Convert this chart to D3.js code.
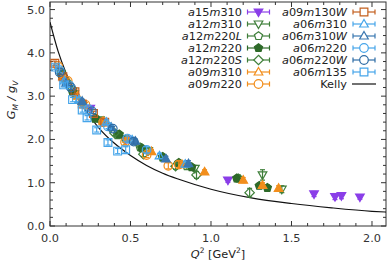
<!DOCTYPE html>
<html>
<head>
<meta charset="utf-8">
<script src="https://cdn.jsdelivr.net/npm/d3@7"></script>
<style>
  body { margin: 0; background: #fff; }
  svg { display: block; font-family: "DejaVu Sans", sans-serif; }
  .axis text { fill: #333; }
</style>
</head>
<body>
<svg id="chart" width="390" height="264"></svg>
<script>
// [Q², G_M/g_V, error]
const a15m310 = [[0.25, 2.72, 0.06], [0.47, 2.0, 0.05], [1.105, 1.06, 0.05], [1.64, 0.74, 0.06], [1.77, 0.68, 0.07], [1.81, 0.70, 0.07], [1.925, 0.67, 0.05]];
const a12m310 = [[0.15, 3.05, 0.05], [0.31, 2.45, 0.05], [0.46, 2.02, 0.05], [0.61, 1.74, 0.06], [0.9, 1.33, 0.07], [1.32, 1.18, 0.12], [1.44, 0.85, 0.08]];
const a12m220L = [[0.07, 3.55, 0.05], [0.14, 3.15, 0.05], [0.28, 2.5, 0.05], [0.42, 2.1, 0.05], [0.56, 1.82, 0.05], [0.7, 1.58, 0.06], [0.85, 1.38, 0.07], [1.17, 1.1, 0.08]];
const a12m220 = [[0.07, 3.5, 0.04], [0.14, 3.1, 0.04], [0.28, 2.48, 0.04], [0.43, 2.12, 0.04], [0.57, 1.8, 0.05], [0.7, 1.6, 0.05], [0.8, 1.46, 0.05], [0.88, 1.36, 0.05], [1.16, 1.1, 0.06], [1.3, 0.93, 0.06], [1.35, 0.88, 0.07]];
const a12m220S = [[0.1, 3.35, 0.06], [0.2, 2.85, 0.06], [0.4, 2.15, 0.06], [0.58, 1.66, 0.06], [0.78, 1.38, 0.07], [0.91, 1.18, 0.08], [1.24, 0.77, 0.1]];
const a09m310 = [[0.08, 3.45, 0.04], [0.17, 3.0, 0.04], [0.33, 2.42, 0.04], [0.48, 2.0, 0.04], [0.63, 1.72, 0.05], [0.82, 1.42, 0.05], [0.96, 1.25, 0.05], [1.2, 1.06, 0.06], [1.32, 0.94, 0.06], [1.42, 0.87, 0.06]];
const a09m220 = [[0.05, 3.7, 0.05], [0.11, 3.35, 0.05], [0.22, 2.8, 0.05], [0.33, 2.4, 0.05], [0.466, 1.94, 0.06], [0.6, 1.64, 0.06], [0.735, 1.39, 0.07], [0.8, 1.42, 0.08]];
const a09m130W = [[0.03, 3.76, 0.05], [0.08, 3.45, 0.05], [0.155, 3.1, 0.05], [0.2, 2.82, 0.05], [0.27, 2.6, 0.05], [0.34, 2.4, 0.06]];
const a06m310 = [[0.09, 3.35, 0.05], [0.18, 2.92, 0.05], [0.35, 2.4, 0.05], [0.51, 1.99, 0.05], [0.68, 1.62, 0.06], [0.84, 1.43, 0.07]];
const a06m310W = [[0.1, 3.3, 0.05], [0.2, 2.88, 0.05], [0.38, 2.28, 0.05], [0.53, 1.96, 0.05], [0.72, 1.55, 0.06], [0.86, 1.44, 0.07]];
const a06m220 = [[0.06, 3.6, 0.05], [0.12, 3.25, 0.05], [0.24, 2.7, 0.05], [0.36, 2.3, 0.05], [0.48, 2.02, 0.06], [0.6, 1.76, 0.07]];
const a06m220W = [[0.06, 3.55, 0.05], [0.13, 3.2, 0.05], [0.26, 2.65, 0.05], [0.39, 2.25, 0.05], [0.52, 1.95, 0.06]];
const a06m135 = [[0.035, 3.67, 0.05], [0.085, 3.26, 0.05], [0.14, 2.92, 0.05], [0.2, 2.68, 0.05], [0.23, 2.5, 0.05], [0.29, 2.22, 0.05], [0.36, 1.93, 0.06], [0.42, 1.73, 0.06], [0.47, 1.76, 0.07]];

// Kelly curve
const kellyQ2 = [0, 0.05, 0.1, 0.15, 0.2, 0.3, 0.4, 0.5, 0.6, 0.7, 0.8, 1.0, 1.25, 1.5, 1.75, 2.0, 2.1];
const kellyG = [4.71, 4.04, 3.53, 3.12, 2.79, 2.28, 1.91, 1.63, 1.40, 1.22, 1.08, 0.85, 0.65, 0.52, 0.42, 0.34, 0.32];

const xTicks = [0, 0.5, 1.0, 1.5, 2.0];
const yTicks = [0, 1, 2, 3, 4, 5];

// name, data, shape, colour, filled (plot), filled (legend)
const series = [
  ["a15m310", a15m310, "tridown", "#8a3ee8", true, true],
  ["a12m310", a12m310, "tridown", "#3f7f3a", false, false],
  ["a12m220L", a12m220L, "pent", "#3f7f3a", false, false],
  ["a12m220", a12m220, "pent", "#2e6a29", true, true],
  ["a12m220S", a12m220S, "diamond", "#3f7f3a", false, false],
  ["a09m310", a09m310, "tri", "#f28e1c", true, false],
  ["a09m220", a09m220, "circle", "#f28e1c", false, false],
  ["a09m130W", a09m130W, "square", "#c4601f", false, false],
  ["a06m310", a06m310, "tri", "#46a5ea", false, false],
  ["a06m310W", a06m310W, "tri", "#3a77b0", true, false],
  ["a06m220", a06m220, "circle", "#46a5ea", false, false],
  ["a06m220W", a06m220W, "circle", "#2f6da6", false, false],
  ["a06m135", a06m135, "square", "#46a5ea", false, false]
];

const svg = d3.select("#chart");
const pLeft = 50, pRight = 386, pTop = 2, pBottom = 226;

const x = d3.scaleLinear().domain([0, 2.087]).range([pLeft, pRight]);
const y = d3.scaleLinear().domain([0, 5.175]).range([pBottom, pTop]);

svg.append("clipPath").attr("id", "clip")
  .append("rect").attr("x", pLeft).attr("y", pTop)
  .attr("width", pRight - pLeft).attr("height", pBottom - pTop);

function shape(kind, r) {
  if (kind === "circle") return d3.symbol(d3.symbolCircle, Math.PI * r * r)();
  let pts;
  if (kind === "tri") pts = [[0, -r * 1.05], [r * 1.0, r * 0.7], [-r * 1.0, r * 0.7]];
  else if (kind === "tridown") pts = [[0, r * 1.05], [r * 1.0, -r * 0.7], [-r * 1.0, -r * 0.7]];
  else if (kind === "square") pts = [[-r * 0.9, -r * 0.9], [r * 0.9, -r * 0.9], [r * 0.9, r * 0.9], [-r * 0.9, r * 0.9]];
  else if (kind === "diamond") pts = [[0, -r * 1.1], [r * 1.1, 0], [0, r * 1.1], [-r * 1.1, 0]];
  else pts = d3.range(5).map(i => {
    const a = -Math.PI / 2 + i * 2 * Math.PI / 5;
    return [r * Math.cos(a), r * Math.sin(a)];
  });
  return "M" + pts.map(p => p.join(",")).join("L") + "Z";
}

// ticks on all four sides, pointing in
const axisG = svg.append("g").attr("class", "axis").attr("stroke", "#333").attr("stroke-width", 1);
const xMinor = d3.range(0, 2.09, 0.1);
const yMinor = d3.range(0, 5.2, 0.2);
xMinor.forEach(v => {
  const major = Math.abs(v * 2 - Math.round(v * 2)) < 1e-6;
  const len = major ? 5 : 3;
  axisG.append("line").attr("x1", x(v)).attr("x2", x(v)).attr("y1", pBottom).attr("y2", pBottom - len);
  axisG.append("line").attr("x1", x(v)).attr("x2", x(v)).attr("y1", pTop).attr("y2", pTop + len);
});
yMinor.forEach(v => {
  const major = Math.abs(v - Math.round(v)) < 1e-6;
  const len = major ? 5 : 3;
  axisG.append("line").attr("x1", pLeft).attr("x2", pLeft + len).attr("y1", y(v)).attr("y2", y(v));
  axisG.append("line").attr("x1", pRight).attr("x2", pRight - len).attr("y1", y(v)).attr("y2", y(v));
});
axisG.append("rect").attr("x", pLeft).attr("y", pTop)
  .attr("width", pRight - pLeft).attr("height", pBottom - pTop).attr("fill", "none");

const labG = svg.append("g").attr("class", "axis").attr("font-size", 11.3);
labG.selectAll(".xt").data(xTicks).join("text")
  .attr("x", d => x(d)).attr("y", pBottom + 16).attr("text-anchor", "middle")
  .text(d => d.toFixed(1));
labG.selectAll(".yt").data(yTicks).join("text")
  .attr("x", pLeft - 5).attr("y", d => y(d) + 4).attr("text-anchor", "end")
  .text(d => d.toFixed(1));

// Kelly curve
const line = d3.line().x(d => x(d[0])).y(d => y(d[1])).curve(d3.curveMonotoneX);
svg.append("path")
  .datum(kellyQ2.map((q, i) => [q, kellyG[i]]))
  .attr("clip-path", "url(#clip)")
  .attr("d", line).attr("fill", "none").attr("stroke", "#111").attr("stroke-width", 1.2);

// data points
const pts = svg.append("g").attr("clip-path", "url(#clip)");
series.forEach(([name, data, kind, col, fill]) => {
  const g = pts.append("g").attr("stroke", col).attr("stroke-width", 1.2);
  data.forEach(([q, v, e]) => {
    const px = x(q), py = y(v);
    g.append("line").attr("x1", px).attr("x2", px).attr("y1", y(v - e)).attr("y2", y(v + e));
    g.append("line").attr("x1", px - 2.5).attr("x2", px + 2.5).attr("y1", y(v - e)).attr("y2", y(v - e));
    g.append("line").attr("x1", px - 2.5).attr("x2", px + 2.5).attr("y1", y(v + e)).attr("y2", y(v + e));
    g.append("path").attr("d", shape(kind, 4.3))
      .attr("transform", `translate(${px},${py})`)
      .attr("fill", fill ? col : "none");
  });
});

// legend
function legendLabel(sel, name) {
  // letters italic, digits upright
  const parts = name.match(/[A-Za-z]+|[0-9]+/g);
  parts.forEach(p => {
    sel.append("tspan").attr("font-style", /[0-9]/.test(p) ? "normal" : "italic").text(p);
  });
}
const leg = svg.append("g").attr("font-size", 11.3).attr("fill", "#222");
const cols = [{ tx: 242, sx: 258.5 }, { tx: 347, sx: 364 }];
series.forEach(([name, data, kind, col, f1, fillLeg], i) => {
  const c = i < 7 ? cols[0] : cols[1];
  const row = i < 7 ? i : i - 7;
  const cy = 12 + row * 12;
  const t = leg.append("text").attr("x", c.tx).attr("y", cy + 4).attr("text-anchor", "end");
  legendLabel(t, name);
  const g = leg.append("g").attr("stroke", col).attr("stroke-width", 1.2);
  g.append("line").attr("x1", c.sx - 11).attr("x2", c.sx + 11).attr("y1", cy).attr("y2", cy);
  g.append("line").attr("x1", c.sx - 11).attr("x2", c.sx - 11).attr("y1", cy - 2.5).attr("y2", cy + 2.5);
  g.append("line").attr("x1", c.sx + 11).attr("x2", c.sx + 11).attr("y1", cy - 2.5).attr("y2", cy + 2.5);
  g.append("path").attr("d", shape(kind, 4.3))
    .attr("transform", `translate(${c.sx},${cy})`)
    .attr("fill", fillLeg ? col : "#fff");
});
leg.append("text").attr("x", 347).attr("y", 12 + 6 * 12 + 4).attr("text-anchor", "end").text("Kelly");
leg.append("line").attr("x1", 352).attr("x2", 376).attr("y1", 84).attr("y2", 84)
  .attr("stroke", "#111").attr("stroke-width", 1.2);

// axis titles
const xt = svg.append("text").attr("x", 218).attr("y", 258).attr("text-anchor", "middle")
  .attr("font-size", 11.3).attr("fill", "#222");
xt.append("tspan").attr("font-style", "italic").text("Q");
xt.append("tspan").attr("font-size", 7.5).attr("dy", -5).text("2");
xt.append("tspan").attr("dy", 5).text(" [GeV");
xt.append("tspan").attr("font-size", 7.5).attr("dy", -5).text("2");
xt.append("tspan").attr("dy", 5).text("]");

const yt = svg.append("text").attr("transform", "translate(15,100) rotate(-90)")
  .attr("text-anchor", "middle").attr("font-size", 11.3).attr("fill", "#222").attr("font-style", "italic");
yt.append("tspan").text("G");
yt.append("tspan").attr("font-size", 7.5).attr("dy", 3).text("M");
yt.append("tspan").attr("dy", -3).text(" / g");
yt.append("tspan").attr("font-size", 7.5).attr("dy", 3).text("V");
</script>
</body>
</html>
